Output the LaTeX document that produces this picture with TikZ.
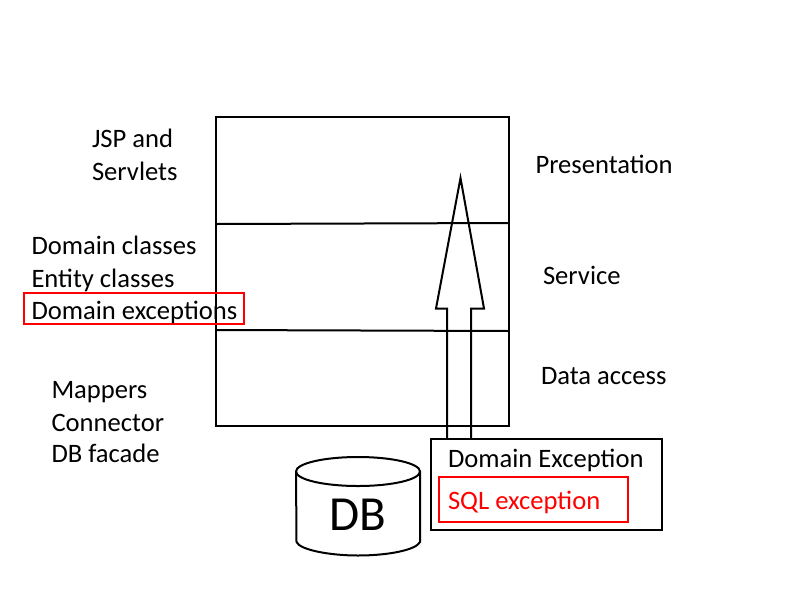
\documentclass[tikz,border=0pt]{standalone}
\usepackage{fontspec}
\setmainfont{Carlito}
\begin{document}
\begin{tikzpicture}[x=1pt,y=-1pt,
  lbl/.style={anchor=base west,inner sep=0pt,outer sep=0pt,font=\fontsize{26.6}{30}\selectfont},
  blackline/.style={draw=black,line width=2pt,line join=miter},
  redline/.style={draw=red,line width=2pt}]
\useasboundingbox (0,0) rectangle (800,600);
\coordinate (boxNW) at (216,117);
\coordinate (boxSE) at (509,426);
\draw[blackline] (boxNW) rectangle (boxSE);
\coordinate (l1a) at (216,224); \coordinate (l1b) at (509,223);
\coordinate (l2a) at (216,330); \coordinate (l2b) at (509,331);
\draw[blackline] (l1a) -- (l1b);
\draw[blackline] (l2a) -- (l2b);
% hollow arrow
\draw[blackline] (447,439) -- (447,308.5) -- (436,308.5) -- (460.5,178) -- (484,308.5) -- (471,308.5) -- (471,439);
% outer exception box
\draw[blackline] (431,439) rectangle (662,530);
\draw[redline] (439,477) rectangle (628,522);
\draw[redline] (24,293) rectangle (244,324);
% DB cylinder
\draw[blackline] (358,471.5) ellipse [x radius=62,y radius=14.5];
\draw[blackline] (296,471.5) -- (296.5,542) .. controls (300,550) and (330,555.5) .. (358,555.5) .. controls (388,555.5) and (416,550) .. (420,542) -- (420,471.5);
% labels
\node[lbl] (jsp) at (92,147) {JSP and};
\node[lbl] (servlets) at (92,180) {Servlets};
\node[lbl] (domcl) at (31.5,254) {Domain classes};
\node[lbl] (entcl) at (31.5,287) {Entity classes};
\node[lbl] (domex) at (31.5,319) {Domain exceptions};
\node[lbl] (mappers) at (51.5,398) {Mappers};
\node[lbl] (conn) at (51.5,431) {Connector};
\node[lbl] (facade) at (51.5,462.5) {DB facade};
\node[lbl] (pres) at (535.5,173) {Presentation};
\node[lbl] (serv) at (543,284) {Service};
\node[lbl] (data) at (541,384) {Data access};
\node[lbl] (dex) at (448,467) {Domain Exception};
\node[lbl,text=red] (sql) at (448,509) {SQL exception};
\node[lbl,font=\fontsize{49}{54}\selectfont] (db) at (329.5,530) {DB};
\end{tikzpicture}
\end{document}
